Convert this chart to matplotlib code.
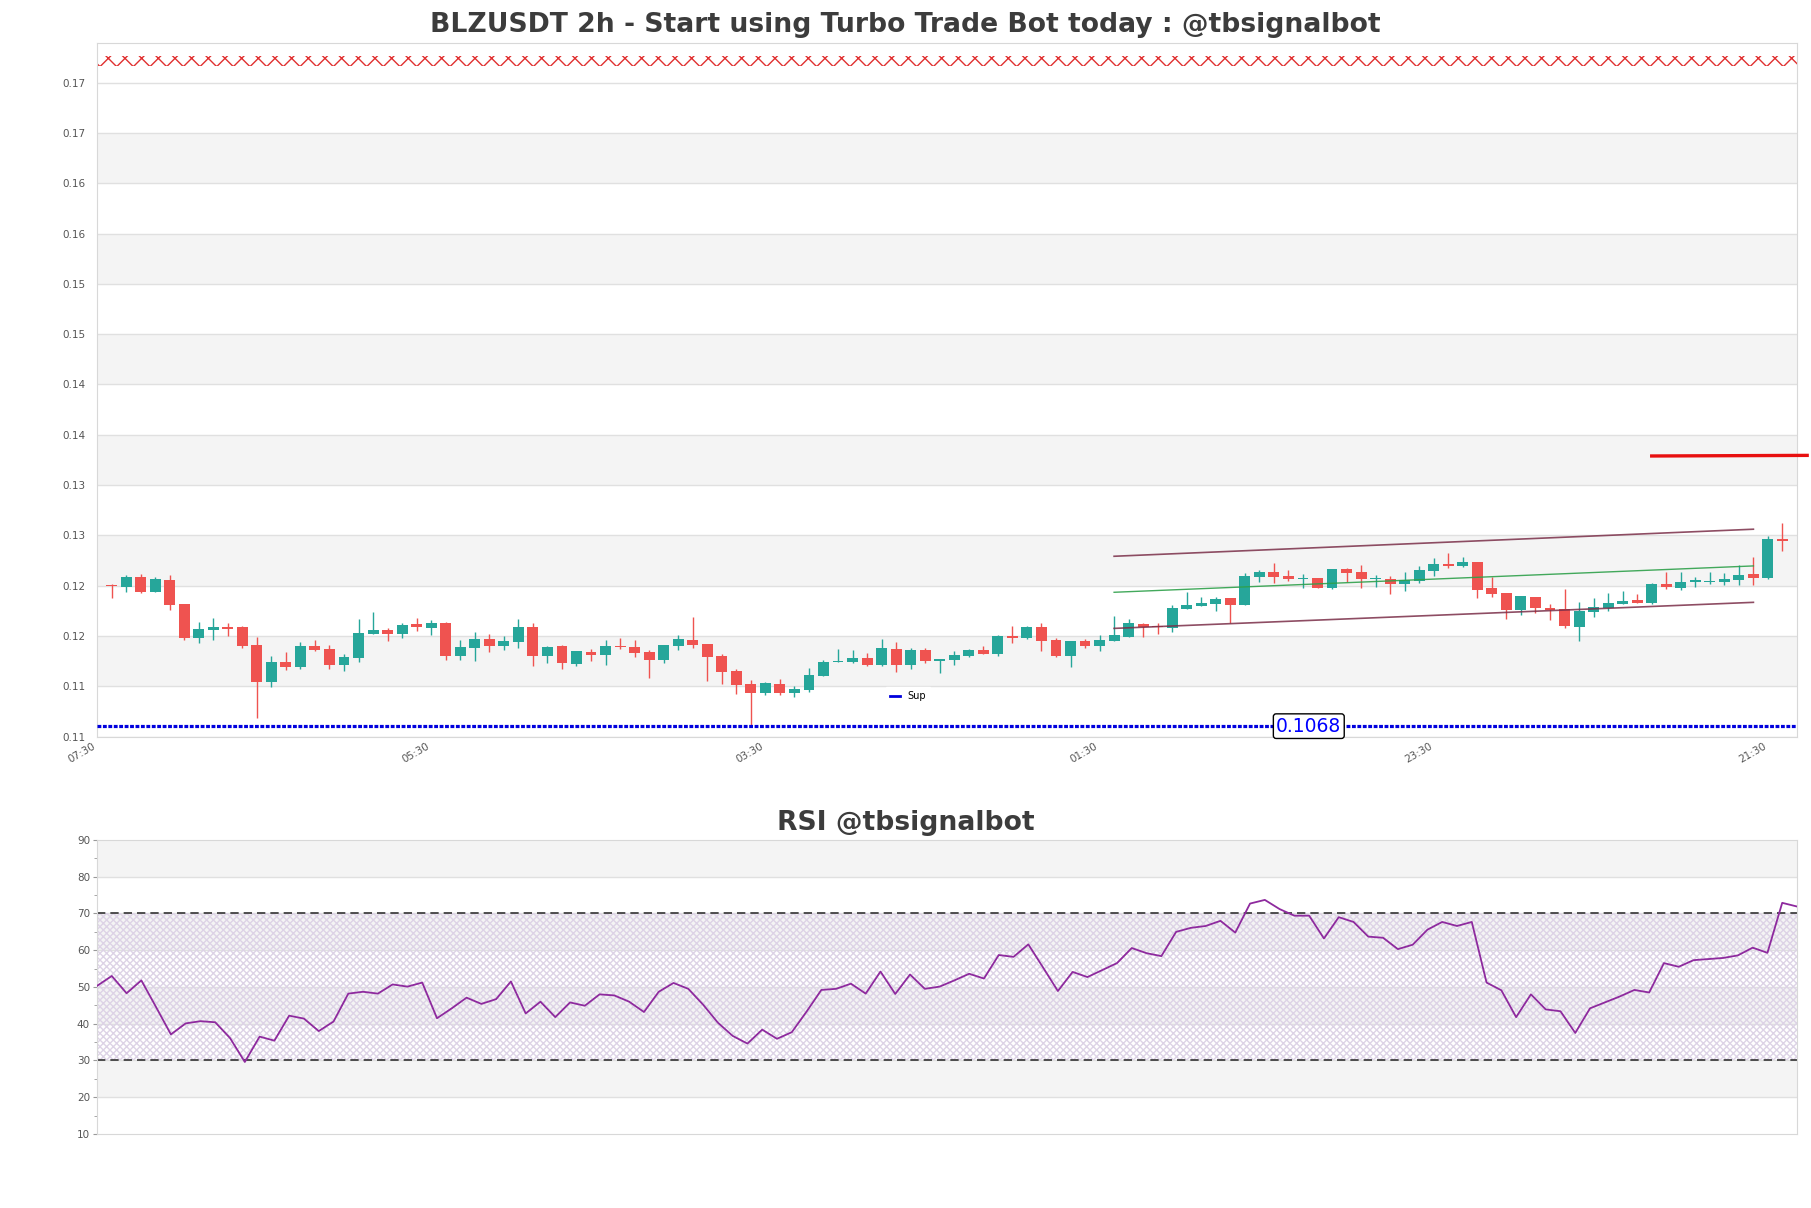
import numpy as np
import matplotlib.pyplot as plt
from matplotlib.ticker import FixedLocator, FormatStrFormatter

# --- Datos ---
titulo = 'BLZUSDT 2h - Start using Turbo Trade Bot today : @tbsignalbot'
titulo_rsi = 'RSI @tbsignalbot'

# Etiquetas del eje X (cada 23 velas)
x_ticks = [0, 23, 46, 69, 92, 115]
x_labels = ['07:30', '05:30', '03:30', '01:30', '23:30', '21:30']

# Velas de 2h (116 velas)
opens = [
    0.12080, 0.12067, 0.12163, 0.12017, 0.12133, 0.11895, 0.11560, 0.11639, 0.11666, 0.11666,
    0.11487, 0.11122, 0.11317, 0.11268, 0.11477, 0.11447, 0.11288, 0.11361, 0.11599, 0.11636,
    0.11599, 0.11696, 0.11656, 0.11706, 0.11377, 0.11457, 0.11546, 0.11477, 0.11516, 0.11666,
    0.11377, 0.11477, 0.11298, 0.11417, 0.11387, 0.11477, 0.11467, 0.11417, 0.11337, 0.11477,
    0.11536, 0.11497, 0.11377, 0.11228, 0.11095, 0.11009, 0.11095, 0.11009, 0.11039, 0.11181,
    0.11317, 0.11317, 0.11357, 0.11288, 0.11447, 0.11288, 0.11437, 0.11327, 0.11337, 0.11377,
    0.11437, 0.11397, 0.11576, 0.11556, 0.11666, 0.11536, 0.11377, 0.11526, 0.11480, 0.11530,
    0.11570, 0.11696, 0.11676, 0.11659, 0.11845, 0.11875, 0.11898, 0.11954, 0.11885, 0.12163,
    0.12213, 0.12173, 0.12143, 0.12153, 0.12054, 0.12243, 0.12213, 0.12143, 0.12143, 0.12094,
    0.12127, 0.12223, 0.12293, 0.12276, 0.12313, 0.12054, 0.12004, 0.11835, 0.11964, 0.11855,
    0.11845, 0.11666, 0.11815, 0.11855, 0.11895, 0.11934, 0.11905, 0.12094, 0.12054, 0.12114,
    0.12117, 0.12114, 0.12133, 0.12193, 0.12153, 0.12541]
highs = [
    0.12094, 0.12183, 0.12193, 0.12160, 0.12183, 0.11895, 0.11716, 0.11755, 0.11706, 0.11676,
    0.11566, 0.11377, 0.11417, 0.11513, 0.11536, 0.11487, 0.11397, 0.11745, 0.11818, 0.11656,
    0.11706, 0.11755, 0.11735, 0.11716, 0.11536, 0.11616, 0.11596, 0.11576, 0.11745, 0.11706,
    0.11477, 0.11487, 0.11427, 0.11447, 0.11536, 0.11556, 0.11536, 0.11437, 0.11487, 0.11586,
    0.11765, 0.11497, 0.11397, 0.11248, 0.11138, 0.11122, 0.11148, 0.11079, 0.11258, 0.11337,
    0.11447, 0.11437, 0.11407, 0.11546, 0.11516, 0.11457, 0.11457, 0.11347, 0.11427, 0.11447,
    0.11477, 0.11586, 0.11676, 0.11676, 0.11706, 0.11556, 0.11526, 0.11546, 0.11586, 0.11775,
    0.11745, 0.11706, 0.11706, 0.11885, 0.12014, 0.11964, 0.11964, 0.11954, 0.12203, 0.12233,
    0.12303, 0.12233, 0.12193, 0.12153, 0.12243, 0.12253, 0.12283, 0.12183, 0.12173, 0.12213,
    0.12273, 0.12352, 0.12402, 0.12362, 0.12313, 0.12163, 0.12004, 0.11974, 0.11964, 0.11895,
    0.12044, 0.11915, 0.11954, 0.12004, 0.12024, 0.11994, 0.12104, 0.12213, 0.12213, 0.12163,
    0.12213, 0.12203, 0.12283, 0.12362, 0.12571, 0.12701]
lows = [
    0.11954, 0.12017, 0.12001, 0.12017, 0.11838, 0.11540, 0.11510, 0.11540, 0.11576, 0.11460,
    0.10764, 0.11072, 0.11241, 0.11251, 0.11427, 0.11251, 0.11231, 0.11321, 0.11599, 0.11526,
    0.11556, 0.11626, 0.11586, 0.11341, 0.11341, 0.11331, 0.11417, 0.11437, 0.11457, 0.11281,
    0.11307, 0.11248, 0.11281, 0.11327, 0.11288, 0.11447, 0.11367, 0.11162, 0.11307, 0.11437,
    0.11457, 0.11128, 0.11099, 0.10999, 0.10691, 0.10992, 0.10992, 0.10973, 0.11022, 0.11181,
    0.11317, 0.11307, 0.11278, 0.11278, 0.11221, 0.11248, 0.11307, 0.11211, 0.11288, 0.11367,
    0.11394, 0.11377, 0.11507, 0.11546, 0.11427, 0.11367, 0.11268, 0.11457, 0.11430, 0.11530,
    0.11570, 0.11570, 0.11596, 0.11619, 0.11845, 0.11875, 0.11825, 0.11706, 0.11885, 0.12114,
    0.12104, 0.12124, 0.12054, 0.12054, 0.12044, 0.12114, 0.12054, 0.12064, 0.11994, 0.12024,
    0.12104, 0.12173, 0.12253, 0.12263, 0.11954, 0.11964, 0.11745, 0.11785, 0.11805, 0.11735,
    0.11656, 0.11526, 0.11765, 0.11825, 0.11895, 0.11905, 0.11895, 0.12044, 0.12034, 0.12064,
    0.12094, 0.12084, 0.12084, 0.12084, 0.12143, 0.12425]
closes = [
    0.12070, 0.12163, 0.12017, 0.12143, 0.11888, 0.11556, 0.11646, 0.11666, 0.11646, 0.11477,
    0.11122, 0.11317, 0.11268, 0.11477, 0.11437, 0.11288, 0.11367, 0.11606, 0.11636, 0.11599,
    0.11686, 0.11666, 0.11706, 0.11377, 0.11467, 0.11546, 0.11477, 0.11526, 0.11666, 0.11377,
    0.11467, 0.11307, 0.11427, 0.11387, 0.11477, 0.11467, 0.11407, 0.11337, 0.11487, 0.11546,
    0.11487, 0.11367, 0.11218, 0.11089, 0.11009, 0.11109, 0.11009, 0.11045, 0.11188, 0.11317,
    0.11327, 0.11357, 0.11288, 0.11457, 0.11288, 0.11437, 0.11327, 0.11347, 0.11387, 0.11437,
    0.11397, 0.11576, 0.11556, 0.11666, 0.11526, 0.11377, 0.11526, 0.11477, 0.11536, 0.11586,
    0.11706, 0.11666, 0.11666, 0.11855, 0.11885, 0.11905, 0.11944, 0.11885, 0.12173, 0.12213,
    0.12163, 0.12143, 0.12153, 0.12054, 0.12243, 0.12203, 0.12143, 0.12157, 0.12094, 0.12133,
    0.12233, 0.12293, 0.12273, 0.12313, 0.12037, 0.11994, 0.11835, 0.11974, 0.11855, 0.11835,
    0.11676, 0.11825, 0.11865, 0.11905, 0.11924, 0.11905, 0.12094, 0.12064, 0.12114, 0.12133,
    0.12127, 0.12143, 0.12183, 0.12153, 0.12541, 0.12525]

# Niveles y canal
soporte = 0.1068
resistencia = (0.17240, 0.17340)        # banda rayada roja superior
linea_roja_x = [107, 117.7]
linea_roja_y = [0.13366, 0.13372]
canal_x = [70, 114]
canal_sup = [0.12369, 0.12638]
canal_med = [0.12011, 0.12273]
canal_inf = [0.11652, 0.11911]

# Ticks del eje Y principal (paso 0.005)
y_ticks = [0.10577 + 0.005 * k for k in range(14)]
y_lim = (0.10577, 0.17467)

# RSI (116 puntos)
rsi = [
    50.3, 53.0, 48.3, 51.8, 44.5, 37.1, 40.1, 40.7, 40.4, 36.1,
    29.6, 36.5, 35.4, 42.2, 41.4, 38.0, 40.6, 48.2, 48.7, 48.2,
    50.7, 50.1, 51.2, 41.5, 44.2, 47.1, 45.4, 46.7, 51.5, 42.8,
    46.0, 41.8, 45.8, 44.9, 48.0, 47.7, 46.0, 43.2, 48.7, 51.1,
    49.5, 45.2, 40.3, 36.7, 34.6, 38.4, 35.9, 37.7, 43.3, 49.2,
    49.5, 50.9, 48.2, 54.2, 48.1, 53.4, 49.5, 50.1, 51.8, 53.6,
    52.3, 58.7, 58.2, 61.6, 55.3, 48.9, 54.1, 52.7, 54.6, 56.5,
    60.6, 59.2, 58.4, 65.0, 66.1, 66.6, 68.0, 64.8, 72.7, 73.7,
    71.2, 69.4, 69.4, 63.2, 69.0, 67.7, 63.7, 63.4, 60.3, 61.5,
    65.6, 67.7, 66.6, 67.7, 51.2, 49.1, 41.8, 48.0, 43.9, 43.4,
    37.5, 44.2, 45.8, 47.4, 49.2, 48.5, 56.5, 55.5, 57.3, 57.6,
    57.9, 58.6, 60.7, 59.3, 72.9, 71.9]

# --- Colores ---
verde = '#26a69a'
rojo = '#ef5350'
gris_banda = '#f4f4f4'
gris_grid = '#e0e0e0'
gris_borde = '#d8d8d8'
texto = '#555555'

fig = plt.figure(figsize=(18.11, 12.08), dpi=100)

# ================= Gráfico de velas =================
ax = fig.add_axes([0.05356, 0.3903, 0.93871, 0.5737])
ax.set_xlim(0, 117)
ax.set_ylim(*y_lim)

# bandas alternas de fondo
for i in range(6):
    ax.axhspan(y_ticks[2 * i + 1], y_ticks[2 * i + 2], color=gris_banda, lw=0, zorder=0)
for y in y_ticks:
    ax.axhline(y, color=gris_grid, lw=1, zorder=0.5)

o = np.array(opens)
h = np.array(highs)
l = np.array(lows)
c = np.array(closes)
x = np.arange(1, len(o) + 1)
colores = [verde if cc >= oo else rojo for oo, cc in zip(o, c)]
cuerpo = np.maximum(np.abs(c - o), 0.0001)

ax.vlines(x, l, h, colors=colores, lw=1, zorder=2)
ax.bar(x, cuerpo, bottom=np.minimum(o, c), width=0.75, color=colores, lw=0, zorder=3)

# banda de resistencia rayada
ax.fill_between([0, 117], resistencia[0], resistencia[1], facecolor='none',
                edgecolor='#e03030', hatch='xx', lw=0, zorder=1)

# canal de tendencia
ax.plot(canal_x, canal_sup, color='#7a2e48', lw=1.2, alpha=0.85, zorder=4)
ax.plot(canal_x, canal_med, color='#2ea04a', lw=1.0, alpha=0.9, zorder=4)
ax.plot(canal_x, canal_inf, color='#7a2e48', lw=1.2, alpha=0.85, zorder=4)

# línea roja a la derecha
ax.plot(linea_roja_x, linea_roja_y, color='#e81010', lw=2.4, zorder=5, clip_on=False)

# soporte (la entrada de leyenda se dibuja con una línea sólida corta)
ax.axhline(soporte, color='#0000dd', lw=2.3, ls=(0, (1.2, 0.5)), zorder=4)
ax.plot([], [], color='#0000dd', lw=2, label='Sup')
ax.text(83.4, soporte, f'{soporte}', color='blue', fontsize=13.5, ha='center', va='center',
        zorder=6, bbox=dict(boxstyle='round,pad=0.15', fc='white', ec='black', lw=1))

leg = ax.legend(loc='center', bbox_to_anchor=(0.477, 0.058), fontsize=7, handlelength=1,
                frameon=True, fancybox=False, framealpha=1)
leg.get_frame().set_edgecolor('white')

ax.yaxis.set_major_locator(FixedLocator(y_ticks))
ax.yaxis.set_major_formatter(FormatStrFormatter('%.2f'))
ax.set_xticks(x_ticks)
ax.set_xticklabels(x_labels, rotation=30, ha='right', fontsize=7.5, color=texto)
ax.tick_params(axis='y', labelsize=7.5, labelcolor=texto, length=0, pad=8)
ax.tick_params(axis='x', length=0, pad=3)
for s in ax.spines.values():
    s.set_color(gris_borde)

# ================= RSI =================
ax2 = fig.add_axes([0.05356, 0.06126, 0.93871, 0.24338])
xr = np.arange(len(rsi))
ax2.set_xlim(0, len(rsi) - 1)
ax2.set_ylim(10, 90)

for y0 in [20, 40, 60, 80]:
    ax2.axhspan(y0, y0 + 10, color=gris_banda, lw=0, zorder=0)
for y in range(20, 90, 10):
    ax2.axhline(y, color=gris_grid, lw=1, zorder=0.5)

ax2.fill_between([0, len(rsi) - 1], 30, 70, facecolor='none', edgecolor='#ddd3e6',
                 hatch='xxxxx', lw=0, zorder=1)
ax2.axhline(70, color='#333333', lw=1.2, dashes=(5, 3), zorder=2)
ax2.axhline(30, color='#333333', lw=1.2, dashes=(5, 3), zorder=2)
ax2.plot(xr, rsi, color='#8e2a9e', lw=1.3, zorder=3)

ax2.set_yticks(range(10, 91, 10))
ax2.set_yticks(range(15, 90, 10), minor=True)
ax2.set_xticks([])
ax2.tick_params(axis='y', which='both', labelsize=7.5, labelcolor=texto, color='#999999')
ax2.tick_params(axis='y', which='major', length=3, pad=2)
ax2.tick_params(axis='y', which='minor', length=2)
for s in ax2.spines.values():
    s.set_color(gris_borde)

# --- Títulos ---
fig.text(0.5, 0.9733, titulo, ha='center', va='baseline', fontsize=19.2,
         fontweight='bold', color='#3c3c3c')
fig.text(0.5, 0.3133, titulo_rsi, ha='center', va='baseline', fontsize=19.2,
         fontweight='bold', color='#3c3c3c')

fig.savefig('out.png', dpi=100)
